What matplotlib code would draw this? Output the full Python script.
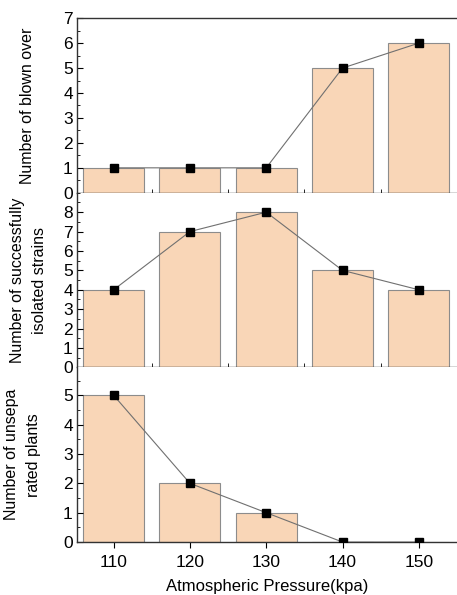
import matplotlib.pyplot as plt
from matplotlib.ticker import MultipleLocator

plt.rcParams['font.family'] = ['Liberation Sans', 'DejaVu Sans']

pressure = [110, 120, 130, 140, 150]
blown_over = [1, 1, 1, 5, 6]
isolated_strains = [4, 7, 8, 5, 4]
unseparated = [5, 2, 1, 0, 0]

panels = [
    (blown_over, "Number of blown over", (0, 7), range(0, 8)),
    (isolated_strains, "Number of successfully\nisolated strains", (0, 9), range(0, 9)),
    (unseparated, "Number of unsepa\nrated plants", (0, 5.95), range(0, 6)),
]

fig = plt.figure(figsize=(4.57, 5.95), dpi=100)
left, width = 0.1685, 0.8315
bottom0, h = 0.089, 0.2935

bar_color = "#F9D6B7"
edge_color = "#8C8C8C"

axes = []
for i, (vals, label, ylim, yt) in enumerate(panels):
    b = bottom0 + (2 - i) * h
    ax = fig.add_axes([left, b, width, h])
    ax.bar(pressure, vals, width=8, color=bar_color, edgecolor=edge_color, linewidth=0.8, zorder=1)
    ax.plot(pressure, vals, color="#707070", linewidth=0.8, marker="s",
            markersize=6, markerfacecolor="black", markeredgecolor="black", zorder=3)
    ax.set_xlim(105.2, 155)
    ax.set_ylim(*ylim)
    ax.set_yticks(list(yt))
    ax.yaxis.set_minor_locator(MultipleLocator(0.5))
    ax.xaxis.set_minor_locator(MultipleLocator(5))
    ax.spines['right'].set_visible(False)
    if i > 0:
        ax.spines['top'].set_visible(False)
    for s in ax.spines.values():
        s.set_linewidth(1.0)
        s.set_color("#333333")
    ax.tick_params(axis='y', which='major', direction='in', length=4, labelsize=12.5, pad=3)
    ax.tick_params(axis='y', which='minor', direction='in', length=2.5)
    ax.tick_params(axis='x', which='minor', direction='in', length=3)
    if i < 2:
        ax.tick_params(axis='x', which='major', direction='in', length=0, labelbottom=False)
    else:
        ax.set_xticks(pressure)
        ax.tick_params(axis='x', which='major', direction='out', length=4, labelsize=12.5, pad=5)
        ax.tick_params(axis='x', which='minor', length=0)
    ax.set_ylabel(label, fontsize=11.5, linespacing=1.55)
    axes.append(ax)

axes[0].yaxis.set_label_coords(-0.11, 0.5)
axes[1].yaxis.set_label_coords(-0.08, 0.5)
axes[2].yaxis.set_label_coords(-0.095, 0.5)

axes[-1].set_xlabel("Atmospheric Pressure(kpa)", fontsize=12, labelpad=7)

plt.savefig("out.png", dpi=100)
